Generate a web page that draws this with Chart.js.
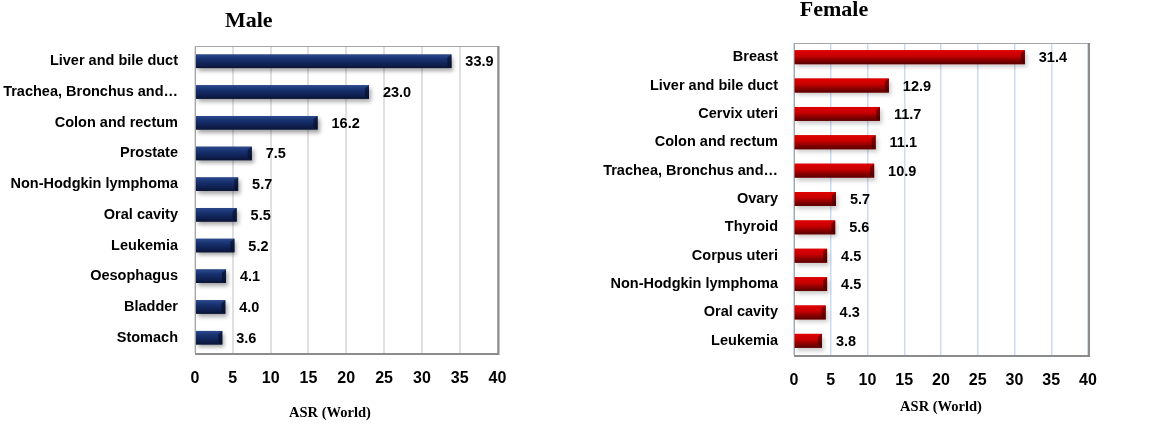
<!DOCTYPE html>
<html>
<head>
<meta charset="utf-8">
<script src="https://cdn.jsdelivr.net/npm/chart.js@4.4.0/dist/chart.umd.min.js"></script>
<style>
  html, body { margin: 0; padding: 0; background: #fff; }
  #wrap { position: relative; width: 1158px; height: 425px; overflow: hidden; }
  #maleChart   { position: absolute; left: 0;     top: 0; }
  #femaleChart { position: absolute; left: 580px; top: 0; }
</style>
</head>
<body>
<div id="wrap">
  <canvas id="maleChart" width="510" height="425"></canvas>
  <canvas id="femaleChart" width="570" height="425"></canvas>
</div>
<script>
// ── Data ──────────────────────────────────────────────────
const MALE_SITES = [
  'Liver and bile duct', 'Trachea, Bronchus and…', 'Colon and rectum', 'Prostate',
  'Non-Hodgkin lymphoma', 'Oral cavity', 'Leukemia', 'Oesophagus', 'Bladder', 'Stomach'
];
const MALE_ASR = [33.9, 23.0, 16.2, 7.5, 5.7, 5.5, 5.2, 4.1, 4.0, 3.6];

const FEMALE_SITES = [
  'Breast', 'Liver and bile duct', 'Cervix uteri', 'Colon and rectum', 'Trachea, Bronchus and…',
  'Ovary', 'Thyroid', 'Corpus uteri', 'Non-Hodgkin lymphoma', 'Oral cavity', 'Leukemia'
];
const FEMALE_ASR = [31.4, 12.9, 11.7, 11.1, 10.9, 5.7, 5.6, 4.5, 4.5, 4.3, 3.8];

const X_TICKS = [0, 5, 10, 15, 20, 25, 30, 35, 40];

// ── Shared fonts ──────────────────────────────────────────
const SANS  = "'Liberation Sans', Arial, sans-serif";
const SERIF = "'Liberation Serif', 'Times New Roman', serif";

// ── Plot frame (drawn after grid, under bars) ─────────────
const plotFrame = {
  id: 'plotFrame',
  beforeDatasetsDraw(chart) {
    const { ctx, chartArea: a } = chart;
    ctx.save();
    ctx.strokeStyle = '#a6a6a6';
    ctx.lineWidth = 1;
    ctx.strokeRect(a.left + 0.5, a.top + 0.5, a.right - a.left, a.bottom - a.top);
    ctx.strokeStyle = '#8c8c8c';
    ctx.lineWidth = 2;
    ctx.beginPath();
    ctx.moveTo(a.left, a.bottom + 1);
    ctx.lineTo(a.right + 1, a.bottom + 1);
    ctx.lineTo(a.right + 1, a.top);
    ctx.stroke();
    ctx.restore();
  }
};

// ── Bar shading + value labels, from the bar elements ─────
const barShade = {
  id: 'barShade',
  afterDatasetsDraw(chart, args, opts) {
    const ctx = chart.ctx;
    const meta = chart.getDatasetMeta(0);
    const values = chart.data.datasets[0].data;
    meta.data.forEach((bar, i) => {
      const { x, y, base, height } = bar.getProps(['x', 'y', 'base', 'height'], true);
      const top = y - height / 2;
      const w = x - base;
      ctx.save();
      ctx.shadowColor = opts.shadow;
      ctx.shadowBlur = 4;
      ctx.shadowOffsetX = 2;
      ctx.shadowOffsetY = 3;
      const g = ctx.createLinearGradient(0, top, 0, top + height);
      opts.stops.forEach(([p, c]) => g.addColorStop(p, c));
      ctx.fillStyle = g;
      ctx.fillRect(base, top, w, height);
      ctx.restore();

      // bevelled end cap
      ctx.save();
      ctx.fillStyle = opts.cap;
      ctx.beginPath();
      ctx.moveTo(x, top);
      ctx.lineTo(x, top + height);
      ctx.lineTo(x - 4, top + height - 3);
      ctx.lineTo(x - 4, top + 3);
      ctx.closePath();
      ctx.fill();
      ctx.restore();

      // value label
      ctx.save();
      ctx.font = 'bold 14.5px ' + SANS;
      ctx.fillStyle = '#000';
      ctx.textAlign = 'left';
      ctx.textBaseline = 'middle';
      ctx.fillText(values[i].toFixed(1), x + 14, y + 1);
      ctx.restore();
    });
  }
};

// ── Chart builder ─────────────────────────────────────────
function buildChart(id, cfg) {
  return new Chart(document.getElementById(id), {
    type: 'bar',
    data: {
      labels: cfg.labels,
      datasets: [{
        data: cfg.values,
        backgroundColor: cfg.color,
        borderWidth: 0,
        categoryPercentage: 1,
        barPercentage: cfg.barPct,
      }]
    },
    plugins: [plotFrame, barShade],
    options: {
      indexAxis: 'y',
      responsive: false,
      animation: false,
      devicePixelRatio: 1,
      layout: { padding: { left: 0, right: cfg.padRight, top: 0, bottom: 0 } },
      plugins: {
        legend: { display: false },
        tooltip: { enabled: false },
        title: {
          display: true,
          text: cfg.title,
          color: '#000',
          font: { family: SERIF, size: 22, weight: 'bold', lineHeight: cfg.titleLH },
          padding: cfg.titlePad,
        },
        barShade: cfg.shade,
      },
      scales: {
        x: {
          min: 0,
          max: 40,
          afterBuildTicks: (s) => { s.ticks = X_TICKS.map(v => ({ value: v })); },
          afterFit: (s) => { s.height = cfg.xHeight; },
          // invisible tick marks push the labels down without widening the side padding
          grid: { color: cfg.gridColor, lineWidth: cfg.gridWidth, drawTicks: true, tickLength: 16, tickColor: 'rgba(0,0,0,0)' },
          border: { display: false },
          ticks: {
            color: '#000',
            padding: 0,
            font: { family: SANS, size: 16, weight: 'bold' },
          },
          title: {
            display: true,
            text: cfg.axisTitle,
            color: '#000',
            font: { family: SERIF, size: 14.5, weight: 'bold' },
            padding: { top: 0, bottom: cfg.axisTitlePad },
          }
        },
        y: {
          afterFit: (s) => { s.width = cfg.yWidth; },
          grid: { display: false, drawTicks: false },
          border: { display: false },
          ticks: {
            color: '#000',
            padding: cfg.yPad,
            font: { family: SANS, size: 14.5, weight: 'bold' },
          }
        }
      }
    }
  });
}

buildChart('maleChart', {
  labels: MALE_SITES,
  values: MALE_ASR,
  color: '#13285f',
  barPct: 0.44,
  padRight: 12.5,
  title: 'Male',
  titleLH: 1,
  titlePad: { top: 10, bottom: 14 },
  xHeight: 72,
  yWidth: 195,
  yPad: 17,
  gridColor: '#e0e0e0',
  gridWidth: 2,
  axisTitle: 'ASR (World)' + ' '.repeat(9),
  axisTitlePad: 3,
  shade: {
    stops: [[0, '#2c4a8f'], [0.35, '#17306e'], [0.75, '#0f2050'], [1, '#0a1434']],
    cap: 'rgba(5,10,30,0.55)',
    shadow: 'rgba(0,0,0,0.35)',
  },
});

buildChart('femaleChart', {
  labels: FEMALE_SITES,
  values: FEMALE_ASR,
  color: '#c00000',
  barPct: 0.49,
  padRight: 62,
  title: 'Female',
  titleLH: 0.8,
  titlePad: { top: 2, bottom: 23.4 },
  xHeight: 70,
  yWidth: 214,
  yPad: 16,
  gridColor: '#c9dcf2',
  gridWidth: 1.5,
  axisTitle: 'ASR (World)',
  axisTitlePad: 9,
  shade: {
    stops: [[0, '#e00000'], [0.4, '#c80000'], [0.8, '#7a0000'], [1, '#5a0000']],
    cap: 'rgba(40,0,0,0.5)',
    shadow: 'rgba(0,0,0,0.2)',
  },
});
</script>
</body>
</html>
